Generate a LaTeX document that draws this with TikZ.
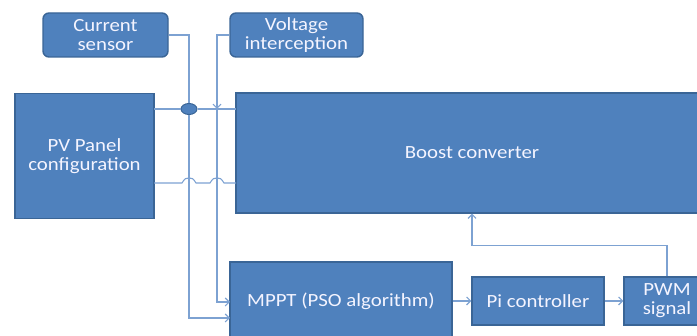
\documentclass[tikz,border=0pt]{standalone}
\usepackage{fontspec}
\setmainfont{Carlito}[FakeStretch=1.12]
\usetikzlibrary{arrows.meta,shapes.geometric}
\definecolor{boxfill}{HTML}{4F81BD}
\definecolor{boxedge}{HTML}{3A6596}
\definecolor{wire}{HTML}{7DA2D2}
\definecolor{txt}{HTML}{F4F4FF}
\tikzset{
  block/.style={rectangle,draw=boxedge,line width=1.4pt,fill=boxfill,text=txt,align=center,inner sep=0pt,
    font=\fontsize{18.6}{18.8}\selectfont},
  rblock/.style={block,rounded corners=6pt},
  wireline/.style={draw=wire,line width=1.1pt},
  arr/.style={wireline,-{Straight Barb[length=4pt,width=8pt]}}
}
\begin{document}
\begin{tikzpicture}[x=1pt,y=-1pt]
\useasboundingbox (0,0) rectangle (697,336);
\clip (0,0) rectangle (697,336);
\node[rblock,minimum width=125pt,minimum height=44pt] (cs) at (105.5,35) {Current\\sensor};
\node[rblock,minimum width=133pt,minimum height=44pt] (vi) at (296.5,35) {Voltage\\interception};
\node[block,minimum width=139pt,minimum height=125pt] (pv) at (84.5,156) {PV Panel\\configuration};
\node[block,minimum width=472pt,minimum height=120pt] (boost) at (472,153) {\raisebox{-2pt}{Boost converter}};
\node[block,minimum width=222pt,minimum height=78pt] (mppt) at (341,301) {MPPT (PSO algorithm)};
\node[block,minimum width=132pt,minimum height=48pt] (pic) at (538,301) {Pi controller};
\node[block,minimum width=86pt,minimum height=48pt] (pwm) at (667,301) {PWM\\signal};
\node[ellipse,draw=boxedge,fill=boxfill,line width=1pt,minimum width=16pt,minimum height=11pt,inner sep=0pt] (j) at (189,109) {};
\coordinate (vj) at (217,109);
\coordinate (pvtop) at (154,109);
\coordinate (bttop) at (236,109);
\coordinate (pvlow) at (154,183);
\coordinate (btlow) at (236,183);
\coordinate (m1) at (230,318);
\coordinate (m2) at (230,302);
% current sensor
\draw[wireline] (cs.east) -| (j.north);
\draw[arr] (j.south) |- (m1);
% voltage interception
\draw[arr] (vi.west) -| (vj);
\draw[arr] (vj) |- (m2);
% upper bus
\draw[wireline] (pvtop) -- (j.west);
\draw[wireline] (j.east) -- (bttop);
% lower bus with hops
\draw[wireline] (pvlow) -- (182,183) .. controls (185,178) and (186,178) .. (189,178)
  .. controls (192,178) and (193,178) .. (196,183) -- (210,183)
  .. controls (213,178) and (214,178) .. (217,178)
  .. controls (220,178) and (221,178) .. (224,183) -- (btlow);
% chain
\draw[arr] (mppt.east) -- (pic.west);
\draw[arr] (pic.east) -- (pwm.west);
\draw[arr] (pwm.north) -- ++(0,-31) -| (boost.south);
\end{tikzpicture}
\end{document}
